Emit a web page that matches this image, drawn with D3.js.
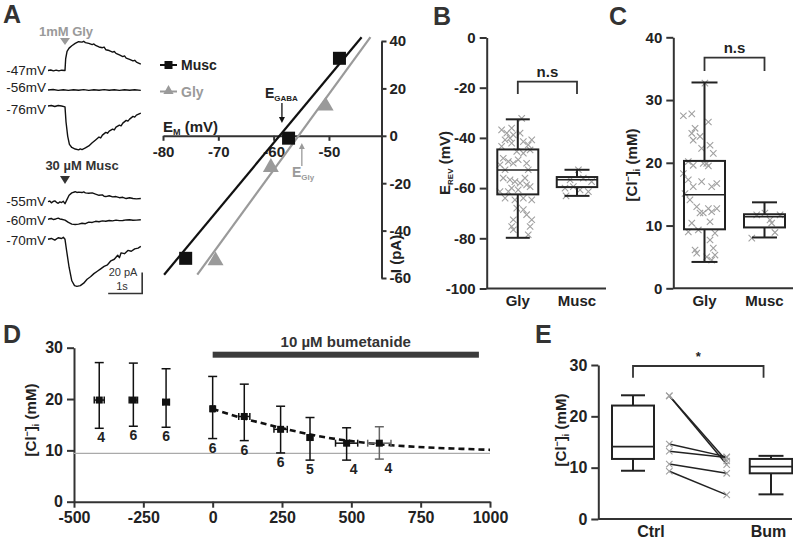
<!DOCTYPE html>
<html><head><meta charset="utf-8">
<script src="https://cdn.jsdelivr.net/npm/d3@7"></script>
<style>
body{margin:0;background:#fff}
text{font-family:"Liberation Sans",Arial,Helvetica,sans-serif}
</style></head>
<body><svg id="c" width="793" height="541"></svg>
<script>
// ---------------- DATA ----------------
// Panel A traces (time s, current pA relative to baseline)
const traceGly47 = [[0,0],[0.08,0.5],[0.16,-0.4],[0.24,0.4],[0.32,-0.3],[0.4,0.3],[0.5,0],[0.52,11.4],[0.56,18.2],[0.62,21.3],[0.7,23.6],[0.8,25.8],[0.9,27.4],[1.0,27],[1.05,27.8],[1.1,26.6],[1.2,25.8],[1.3,24.7],[1.35,25.3],[1.4,23.9],[1.5,22.4],[1.6,21.7],[1.65,22.3],[1.7,19.8],[1.8,19],[1.9,17.5],[1.95,18.1],[2.0,16.3],[2.1,14.8],[2.2,13.3],[2.25,13.9],[2.3,11.8],[2.4,10.6],[2.5,9.1],[2.55,9.7],[2.6,8],[2.73,6.1]];
const traceGly56 = [[0,0],[0.15,0.5],[0.3,-0.4],[0.45,0.3],[0.6,-0.4],[0.75,0.3],[0.9,-0.3],[1.05,0.4],[1.2,-0.4],[1.35,0.3],[1.5,-0.3],[1.65,0.4],[1.8,-0.3],[1.95,0.3],[2.1,-0.4],[2.25,0.2],[2.4,-0.3],[2.55,0.2],[2.73,-0.4]];
const traceGly76 = [[0,0],[0.1,0.5],[0.2,-0.5],[0.3,0.5],[0.4,0],[0.5,-0.8],[0.53,-15.2],[0.58,-28.9],[0.63,-36.5],[0.7,-39.5],[0.8,-41],[0.9,-41.8],[0.95,-40.9],[1.0,-41.5],[1.1,-39.9],[1.2,-38],[1.3,-35],[1.4,-32.3],[1.5,-29.6],[1.55,-30.4],[1.6,-27.7],[1.7,-25.1],[1.75,-25.9],[1.8,-23.9],[1.9,-22],[1.95,-22.8],[2.0,-20.1],[2.1,-18.2],[2.15,-18.9],[2.2,-16.3],[2.3,-13.7],[2.35,-14.4],[2.4,-12.5],[2.5,-9.9],[2.55,-10.6],[2.6,-8.7],[2.73,-6.8]];
const traceMusc55 = [[0,0],[0.05,0.6],[0.1,-1.1],[0.15,0.2],[0.2,0.8],[0.25,-0.6],[0.3,-1.5],[0.35,-0.2],[0.4,-0.8],[0.45,0.4],[0.5,-1.9],[0.55,1.5],[0.62,6.1],[0.7,8.4],[0.8,9.5],[0.85,8.8],[0.9,9.1],[1.0,8.7],[1.05,9.3],[1.1,8.4],[1.2,8],[1.3,8.4],[1.4,7.2],[1.5,6.1],[1.6,6.5],[1.65,5.2],[1.7,4.9],[1.8,5.7],[1.9,4.6],[2.0,4.9],[2.1,3.8],[2.2,4.2],[2.3,3],[2.4,3.8],[2.5,3],[2.6,2.7],[2.73,3]];
const traceMusc60 = [[0,0],[0.05,0.5],[0.1,0.8],[0.15,-0.2],[0.2,0],[0.25,0.7],[0.3,1.1],[0.35,0.3],[0.4,0],[0.5,-0.8],[0.6,-3],[0.7,-4.6],[0.8,-4.9],[0.9,-4.6],[1.0,-3.8],[1.1,-4.2],[1.2,-2.7],[1.3,-3],[1.4,-1.9],[1.5,-2.3],[1.6,-1.5],[1.7,-1.9],[1.8,-1.1],[1.9,-1.5],[2.0,-0.8],[2.1,-1.3],[2.2,-1.1],[2.3,-0.6],[2.4,-0.4],[2.5,-0.9],[2.6,-0.8],[2.73,-0.4]];
const traceMusc70 = [[0,0],[0.1,0.8],[0.2,-0.8],[0.3,1.5],[0.4,0.8],[0.45,1.9],[0.5,0],[0.55,-11.4],[0.62,-26.6],[0.7,-39.5],[0.78,-44.1],[0.85,-44.8],[0.95,-44.1],[1.05,-41.8],[1.15,-38],[1.25,-35.7],[1.35,-32.7],[1.45,-30.4],[1.55,-28.1],[1.65,-25.8],[1.75,-24.3],[1.85,-20.5],[1.95,-19],[2.05,-15.2],[2.1,-17.5],[2.15,-12.9],[2.25,-13.7],[2.35,-10.6],[2.45,-11.4],[2.55,-9.1],[2.65,-8.4],[2.73,-6.8]];
const traceLabels = ["-47mV","-56mV","-76mV","-55mV","-60mV","-70mV"];

// Panel A IV
const ivMuscV = [-75.9, -57.3, -48.1];
const ivMuscI = [-51.7, -1, 32.7];
const ivGlyV = [-70.5, -60.5, -50.6];
const ivGlyI = [-52.7, -13.3, 12.6];
const fitMuscV = [-79.8, -44.1], fitMuscI = [-58.6, 41.6];
const fitGlyV = [-73.8, -42.5], fitGlyI = [-58.6, 41.6];
const eGaba = -58.5, eGly = -54.9;
const ivXTicks = [-80, -70, -60, -50];
const ivYTicks = [40, 20, 0, -20, -40, -60];

// Panel B
const bCats = ["Gly", "Musc"];
const bStats = [[-79.8, -62.5, -52.8, -44.6, -32.6], [-63.1, -59.6, -56.7, -55.6, -52.7]];
const bGlyVals = [-36.8,-38.1,-40.1,-38.8,-40.8,-38.1,-41.5,-42.8,-42.1,-43.4,-45.4,-46.1,-44.8,-48.1,-49.4,-50.1,-48.7,-50.1,-50.7,-52.7,-52.7,-56.0,-56.7,-57.4,-58.0,-56.0,-58.7,-60.0,-60.7,-59.4,-64.0,-64.7,-64.0,-64.7,-61.4,-68.6,-70.6,-72.6,-72.6,-75.3,-75.3,-76.6,-78.6,-68.0,-61.4,-32.2,-36.1,-40.8];
const bGlyJit = [-0.79,-0.54,-0.38,-0.22,-0.62,0.11,0.27,0.51,-0.30,-0.79,-0.05,0.27,0.60,-0.71,-0.46,-0.22,0.02,0.43,-0.87,-0.62,0.51,-0.71,-0.38,-0.14,0.11,0.35,0.43,-0.30,0.02,0.60,-0.62,-0.14,0.27,0.68,-0.46,0.27,0.43,0.68,-0.22,-0.30,0.60,-0.22,0.51,-0.05,-0.87,0.19,-0.30,0.68];
const bMuscVals = [-52.7,-56.7,-56.0,-57.4,-60.0,-59.4,-61.4,-63.1,-60.7];
const bMuscJit = [0.07,-0.34,0.31,0.72,-0.59,-0.18,0.56,-0.54,0.15];
const bYTicks = [0, -20, -40, -60, -80, -100];

// Panel C
const cCats = ["Gly", "Musc"];
const cStats = [[4.2, 9.4, 14.9, 20.3, 32.8], [8.1, 9.7, 11.4, 11.8, 13.7]];
const cGlyVals = [32.7,27.5,27.8,25.5,24.7,23.6,26.5,22.3,22.8,21.5,20.2,19.6,19.9,19.5,18.3,17.3,17.0,16.2,16.2,14.1,13.0,12.0,12.7,12.2,12.0,10.6,10.4,9.0,9.3,8.8,7.7,6.1,5.6,6.4,5.3,4.5,5.0,15.1,12.7,24.2,19.9,16.7];
const cGlyJit = [0.02,-1.03,-0.62,-0.46,-0.62,-0.55,0.19,-0.14,0.27,0.43,-0.79,-0.55,0.11,0.19,-1.03,-0.79,-0.14,0.35,-0.55,-0.71,-0.38,-0.06,0.19,0.35,-0.22,0.27,-0.62,-0.79,-0.30,0.51,0.27,-0.46,-0.38,0.43,0.51,0.35,0.11,-0.95,0.60,-0.22,-0.06,0.60];
const cMuscVals = [11.7,10.9,8.9,8.0,12.0,11.7,10.4];
const cMuscJit = [-0.38,0.27,0.51,-0.62,0.02,0.76,0.35];
const cYTicks = [0, 10, 20, 30, 40];

// Panel D
const dTime = [-409, -286, -168, 0, 114, 245, 351, 483, 601];
const dCl = [19.8, 19.8, 19.4, 18.1, 16.6, 14.1, 12.5, 11.4, 11.4];
const dLow = [14.3, 14.7, 14.5, 12.3, 11.9, 9.5, 8.1, 8.1, 8.3];
const dHigh = [27.1, 27.0, 25.9, 24.4, 22.9, 18.6, 16.4, 14.4, 14.6];
const dTimeErr = [18, 15, 12, 6, 20, 24, 10, 40, 42];
const dN = [4, 6, 6, 6, 6, 6, 5, 4, 4];
const dFitT = [0, 100, 200, 300, 400, 500, 600, 700, 800, 900, 1000];
const dFitCl = [18.1, 16.4, 15.0, 13.7, 12.6, 11.8, 11.2, 10.8, 10.5, 10.3, 10.1];
const dBaseline = 9.4;
const bumStart = 0, bumEnd = 960;
const dXTicks = [-500, -250, 0, 250, 500, 750, 1000];
const dYTicks = [0, 10, 20, 30];

// Panel E
const eCtrl = [24.0, 24.0, 14.6, 13.2, 10.7, 9.3];
const eBum = [10.6, 11.3, 12.1, 12.0, 8.9, 4.7];
const eCtrlStats = [9.4, 11.7, 14.1, 22.1, 24.1];
const eBumStats = [4.8, 8.9, 10.2, 11.7, 12.3];
const eYTicks = [0, 10, 20, 30];

// ---------------- DRAW ----------------
const svg = d3.select("#c");
const INK = "#222", AX = "#333", GRAY = "#9a9a9a";
const plain = d => String(d);

function styleAxis(g, fs) {
  g.selectAll("path,line").attr("stroke", AX).attr("stroke-width", 2);
  g.selectAll("text").attr("font-size", fs || 15).attr("font-weight", "bold").attr("fill", INK);
}
function letter(t, x, y) {
  svg.append("text").attr("x", x).attr("y", y).text(t)
    .attr("font-size", 25).attr("font-weight", "bold").attr("fill", "#333");
}
function crossPath(s) { return `M${-s},${-s}L${s},${s}M${-s},${s}L${s},${-s}`; }

// ===== Panel A traces =====
letter("A", 3, 23);
const tX = d3.scaleLinear().domain([0, 1]).range([48, 82]);
const pA = 1.05; // px per pA (scale bar 20 pA = 21 px)
const traceSet = [
  {d: traceGly47, base: 70.5}, {d: traceGly56, base: 90}, {d: traceGly76, base: 106},
  {d: traceMusc55, base: 201.7}, {d: traceMusc60, base: 219.3}, {d: traceMusc70, base: 239.3}
];
const labelY = [75, 92, 114, 206, 225, 245];
traceSet.forEach((tr, k) => {
  const line = d3.line().x(p => tX(p[0])).y(p => tr.base - p[1] * pA);
  svg.append("path").attr("d", line(tr.d)).attr("fill", "none")
    .attr("stroke", "#111").attr("stroke-width", 1.4).attr("stroke-linejoin", "round");
  svg.append("text").attr("x", 46).attr("y", labelY[k]).attr("text-anchor", "end")
    .attr("font-size", 13.5).attr("fill", INK).text(traceLabels[k]);
});
svg.append("text").attr("x", 66).attr("y", 36).attr("text-anchor", "middle")
  .attr("font-size", 13).attr("font-weight", "bold").attr("fill", "#9a9a9a").text("1mM Gly");
svg.append("path").attr("d", "M60,38L70,38L65,45Z").attr("fill", "#9a9a9a");
svg.append("text").attr("x", 82).attr("y", 170).attr("text-anchor", "middle")
  .attr("font-size", 13).attr("font-weight", "bold").attr("fill", "#333").text("30 µM Musc");
svg.append("path").attr("d", "M60,176L70,176L65,184Z").attr("fill", "#333");
// scale bar
svg.append("path").attr("d", `M${tX(1.77)},293.5H${tX(2.77)}V${293.5 - 20 * pA}`)
  .attr("fill", "none").attr("stroke", "#333").attr("stroke-width", 1.6);
svg.append("text").attr("x", 123).attr("y", 276).attr("text-anchor", "middle")
  .attr("font-size", 11).attr("fill", "#333").text("20 pA");
svg.append("text").attr("x", 122).attr("y", 290).attr("text-anchor", "middle")
  .attr("font-size", 11).attr("fill", "#333").text("1s");

// ===== Panel A IV =====
const xIV = d3.scaleLinear().domain([-80, -40.5]).range([163, 381.5]);
const yIV = d3.scaleLinear().domain([-60, 40]).range([278, 41]);
const gIVx = svg.append("g").attr("transform", `translate(0,${yIV(0)})`)
  .call(d3.axisBottom(xIV).tickValues(ivXTicks).tickFormat(plain).tickSize(5).tickPadding(6).tickSizeOuter(0));
styleAxis(gIVx);
const gIVy = svg.append("g").attr("transform", `translate(${xIV(-40.5)},0)`)
  .call(d3.axisRight(yIV).tickValues(ivYTicks).tickFormat(plain).tickSize(5).tickPadding(3).tickSizeOuter(0));
styleAxis(gIVy);
const lineIV = d3.line().x(p => xIV(p[0])).y(p => yIV(p[1]));
svg.append("path").attr("d", lineIV(d3.zip(fitGlyV, fitGlyI))).attr("stroke", GRAY).attr("stroke-width", 2.2).attr("fill", "none");
svg.append("path").attr("d", lineIV(d3.zip(fitMuscV, fitMuscI))).attr("stroke", "#111").attr("stroke-width", 2.2).attr("fill", "none");
ivMuscV.forEach((v, i) => {
  svg.append("rect").attr("x", xIV(v) - 6.5).attr("y", yIV(ivMuscI[i]) - 6.5)
    .attr("width", 13).attr("height", 13).attr("fill", "#111");
});
ivGlyV.forEach((v, i) => {
  svg.append("path").attr("transform", `translate(${xIV(v)},${yIV(ivGlyI[i])})`)
    .attr("d", d3.symbol().type(d3.symbolTriangle).size(110)()).attr("fill", GRAY);
});
// legend
svg.append("line").attr("x1", 160).attr("x2", 177).attr("y1", 65).attr("y2", 65).attr("stroke", "#111").attr("stroke-width", 2);
svg.append("rect").attr("x", 164.5).attr("y", 61).attr("width", 8).attr("height", 8).attr("fill", "#111");
svg.append("text").attr("x", 181).attr("y", 70).attr("font-size", 14).attr("font-weight", "bold").attr("fill", INK).text("Musc");
svg.append("line").attr("x1", 160).attr("x2", 177).attr("y1", 91.5).attr("y2", 91.5).attr("stroke", GRAY).attr("stroke-width", 2);
svg.append("path").attr("transform", "translate(168.5,91)").attr("d", d3.symbol().type(d3.symbolTriangle).size(45)()).attr("fill", GRAY);
svg.append("text").attr("x", 181).attr("y", 96.5).attr("font-size", 14).attr("font-weight", "bold").attr("fill", GRAY).text("Gly");
// E labels + arrows
const tEG = svg.append("text").attr("x", 265).attr("y", 98).attr("font-size", 14).attr("font-weight", "bold").attr("fill", INK);
tEG.append("tspan").text("E");
tEG.append("tspan").attr("font-size", 8).attr("dy", 3).text("GABA");
svg.append("line").attr("x1", xIV(eGaba)).attr("x2", xIV(eGaba)).attr("y1", 103).attr("y2", 118).attr("stroke", "#111").attr("stroke-width", 1.3);
svg.append("path").attr("d", `M${xIV(eGaba) - 3},117L${xIV(eGaba) + 3},117L${xIV(eGaba)},123Z`).attr("fill", "#111");
const tEY = svg.append("text").attr("x", 292).attr("y", 177).attr("font-size", 14).attr("font-weight", "bold").attr("fill", GRAY);
tEY.append("tspan").text("E");
tEY.append("tspan").attr("font-size", 8).attr("dy", 3).text("Gly");
svg.append("line").attr("x1", xIV(eGly)).attr("x2", xIV(eGly)).attr("y1", 166).attr("y2", 148).attr("stroke", GRAY).attr("stroke-width", 1.3);
svg.append("path").attr("d", `M${xIV(eGly) - 3},149L${xIV(eGly) + 3},149L${xIV(eGly)},143Z`).attr("fill", GRAY);
const tEM = svg.append("text").attr("x", 163).attr("y", 132).attr("font-size", 15).attr("font-weight", "bold").attr("fill", INK);
tEM.append("tspan").text("E");
tEM.append("tspan").attr("font-size", 9).attr("dy", 3).text("M");
tEM.append("tspan").attr("dy", -3).text(" (mV)");
svg.append("text").attr("transform", "translate(401,254) rotate(-90)").attr("text-anchor", "middle")
  .attr("font-size", 15).attr("font-weight", "bold").attr("fill", INK).text("I (pA)");

// ===== Box plot helpers =====
function boxPlot(x, y, stats, w, capW) {
  const [lo, q1, md, q3, hi] = stats;
  const g = svg.append("g").attr("stroke", INK).attr("stroke-width", 2).attr("fill", "none");
  g.append("line").attr("x1", x).attr("x2", x).attr("y1", y(hi)).attr("y2", y(q3));
  g.append("line").attr("x1", x).attr("x2", x).attr("y1", y(q1)).attr("y2", y(lo));
  g.append("line").attr("x1", x - capW / 2).attr("x2", x + capW / 2).attr("y1", y(hi)).attr("y2", y(hi));
  g.append("line").attr("x1", x - capW / 2).attr("x2", x + capW / 2).attr("y1", y(lo)).attr("y2", y(lo));
  g.append("rect").attr("x", x - w / 2).attr("y", y(q3)).attr("width", w).attr("height", y(q1) - y(q3));
  g.append("line").attr("x1", x - w / 2).attr("x2", x + w / 2).attr("y1", y(md)).attr("y2", y(md)).attr("stroke-width", 1.6);
}
function crosses(x, y, vals, jit, half) {
  vals.forEach((v, i) => {
    svg.append("path").attr("transform", `translate(${x + jit[i] * half},${y(v)})`)
      .attr("d", crossPath(3.2)).attr("stroke", "#a0a0a0").attr("stroke-width", 1.1).attr("fill", "none");
  });
}
function bracket(x1, x2, yTop, yBot, label, fs) {
  svg.append("path").attr("d", `M${x1},${yBot}V${yTop}H${x2}V${yBot}`).attr("fill", "none").attr("stroke", "#333").attr("stroke-width", 1.8);
  svg.append("text").attr("x", (x1 + x2) / 2).attr("y", yTop - 5).attr("text-anchor", "middle")
    .attr("font-size", fs).attr("font-weight", "bold").attr("fill", INK).text(label);
}
function clLabel(x, y) {
  const t = svg.append("text").attr("transform", `translate(${x},${y}) rotate(-90)`).attr("text-anchor", "middle")
    .attr("font-size", 15).attr("font-weight", "bold").attr("fill", INK);
  t.append("tspan").text("[Cl");
  t.append("tspan").attr("font-size", 9).attr("dy", -6).text("−");
  t.append("tspan").attr("dy", 6).text("]");
  t.append("tspan").attr("font-size", 9).attr("dy", 3).text("i");
  t.append("tspan").attr("dy", -3).text(" (mM)");
}

// ===== Panel B =====
letter("B", 433, 25);
const yB = d3.scaleLinear().domain([-100, 0]).range([288.5, 37.5]);
const xB = d3.scalePoint().domain(bCats).range([517.8, 577]);
const gBy = svg.append("g").attr("transform", "translate(486.7,0)")
  .call(d3.axisLeft(yB).tickValues(bYTicks).tickFormat(plain).tickSize(7).tickPadding(4).tickSizeOuter(0));
styleAxis(gBy);
svg.append("line").attr("x1", 486.7).attr("x2", 606).attr("y1", 288.5).attr("y2", 288.5).attr("stroke", AX).attr("stroke-width", 2);
crosses(xB("Gly"), yB, bGlyVals, bGlyJit, 20.5);
crosses(xB("Musc"), yB, bMuscVals, bMuscJit, 20.3);
boxPlot(xB("Gly"), yB, bStats[0], 41, 24);
boxPlot(xB("Musc"), yB, bStats[1], 40.5, 25);
bCats.forEach(c => svg.append("text").attr("x", xB(c)).attr("y", 306).attr("text-anchor", "middle")
  .attr("font-size", 15).attr("font-weight", "bold").attr("fill", INK).text(c));
bracket(xB("Gly"), xB("Musc"), 81.7, 94, "n.s", 15);
{
  const t = svg.append("text").attr("transform", "translate(450,163) rotate(-90)").attr("text-anchor", "middle")
    .attr("font-size", 15).attr("font-weight", "bold").attr("fill", INK);
  t.append("tspan").text("E");
  t.append("tspan").attr("font-size", 8).attr("dy", 3).text("REV");
  t.append("tspan").attr("dy", -3).text(" (mV)");
}

// ===== Panel C =====
letter("C", 609, 25);
const yC = d3.scaleLinear().domain([0, 40]).range([288.3, 37.3]);
const xC = d3.scalePoint().domain(cCats).range([704.5, 764.5]);
const gCy = svg.append("g").attr("transform", "translate(673.3,0)")
  .call(d3.axisLeft(yC).tickValues(cYTicks).tickFormat(plain).tickSize(7).tickPadding(4).tickSizeOuter(0));
styleAxis(gCy);
svg.append("line").attr("x1", 673.3).attr("x2", 793).attr("y1", 288.3).attr("y2", 288.3).attr("stroke", AX).attr("stroke-width", 2);
crosses(xC("Gly"), yC, cGlyVals, cGlyJit, 20.5);
crosses(xC("Musc"), yC, cMuscVals, cMuscJit, 20.5);
boxPlot(xC("Gly"), yC, cStats[0], 41, 26);
boxPlot(xC("Musc"), yC, cStats[1], 41, 25);
cCats.forEach(c => svg.append("text").attr("x", xC(c)).attr("y", 306).attr("text-anchor", "middle")
  .attr("font-size", 15).attr("font-weight", "bold").attr("fill", INK).text(c));
bracket(xC("Gly"), xC("Musc"), 57.7, 71, "n.s", 15);
clLabel(637, 165);

// ===== Panel D =====
letter("D", 3, 343);
const xD = d3.scaleLinear().domain([-500, 1000]).range([74, 490]);
const yD = d3.scaleLinear().domain([0, 30]).range([501.7, 347.7]);
const gDx = svg.append("g").attr("transform", "translate(0,501.7)")
  .call(d3.axisBottom(xD).tickValues(dXTicks).tickFormat(plain).tickSize(6).tickPadding(4).tickSizeOuter(0));
styleAxis(gDx, 16);
const gDy = svg.append("g").attr("transform", "translate(74,0)")
  .call(d3.axisLeft(yD).tickValues(dYTicks).tickFormat(plain).tickSize(7).tickPadding(4).tickSizeOuter(0));
styleAxis(gDy, 16);
svg.append("line").attr("x1", xD(-500)).attr("x2", xD(1000)).attr("y1", yD(dBaseline)).attr("y2", yD(dBaseline))
  .attr("stroke", "#aaa").attr("stroke-width", 1.2);
svg.append("rect").attr("x", xD(bumStart)).attr("y", 351.7).attr("width", xD(bumEnd) - xD(bumStart)).attr("height", 6).attr("fill", "#3c3c3c");
svg.append("text").attr("x", xD((bumStart + bumEnd) / 2)).attr("y", 347).attr("text-anchor", "middle")
  .attr("font-size", 15).attr("font-weight", "bold").attr("fill", "#333").text("10 µM bumetanide");
svg.append("path").attr("d", d3.line().x(t => xD(t)).y((t, i) => yD(dFitCl[i])).curve(d3.curveMonotoneX)(dFitT))
  .attr("fill", "none").attr("stroke", "#111").attr("stroke-width", 2.6).attr("stroke-dasharray", "6,4");
const nDx = [2, 0, 0, 0, 0, 0, 0, 7, 9];
dTime.forEach((t, i) => {
  const col = i === 8 ? "#666" : "#111";
  const x = xD(t), g = svg.append("g").attr("stroke", col).attr("stroke-width", 1.5);
  g.append("line").attr("x1", x).attr("x2", x).attr("y1", yD(dHigh[i])).attr("y2", yD(dLow[i]));
  g.append("line").attr("x1", x - 4.5).attr("x2", x + 4.5).attr("y1", yD(dHigh[i])).attr("y2", yD(dHigh[i]));
  g.append("line").attr("x1", x - 4.5).attr("x2", x + 4.5).attr("y1", yD(dLow[i])).attr("y2", yD(dLow[i]));
  const xl = xD(t - dTimeErr[i]), xr = xD(t + dTimeErr[i]);
  g.append("line").attr("x1", xl).attr("x2", xr).attr("y1", yD(dCl[i])).attr("y2", yD(dCl[i]));
  g.append("line").attr("x1", xl).attr("x2", xl).attr("y1", yD(dCl[i]) - 3.5).attr("y2", yD(dCl[i]) + 3.5);
  g.append("line").attr("x1", xr).attr("x2", xr).attr("y1", yD(dCl[i]) - 3.5).attr("y2", yD(dCl[i]) + 3.5);
  svg.append("rect").attr("x", x - 3.5).attr("y", yD(dCl[i]) - 3.5).attr("width", 7).attr("height", 7).attr("fill", "#111");
  svg.append("text").attr("x", x + nDx[i]).attr("y", yD(dLow[i]) + 14).attr("text-anchor", "middle")
    .attr("font-size", 14).attr("font-weight", "bold").attr("fill", INK).text(dN[i]);
});
clLabel(36, 420);

// ===== Panel E =====
letter("E", 535, 343);
const yE = d3.scaleLinear().domain([0, 30]).range([519, 365]);
const xE = d3.scaleLinear().domain([0, 1]).range([633, 771]);
const gEy = svg.append("g").attr("transform", "translate(598.3,0)")
  .call(d3.axisLeft(yE).tickValues(eYTicks).tickFormat(plain).tickSize(7).tickPadding(4).tickSizeOuter(0));
styleAxis(gEy, 16);
svg.append("line").attr("x1", 598.3).attr("x2", 792).attr("y1", 519).attr("y2", 519).attr("stroke", AX).attr("stroke-width", 2);
boxPlot(xE(0), yE, eCtrlStats, 42, 24);
boxPlot(xE(1), yE, eBumStats, 42.5, 25);
eCtrl.forEach((v, i) => {
  svg.append("line").attr("x1", xE(0.263)).attr("x2", xE(0.679)).attr("y1", yE(v)).attr("y2", yE(eBum[i]))
    .attr("stroke", "#222").attr("stroke-width", 1.5);
});
crosses(xE(0.263), yE, eCtrl, eCtrl.map(() => 0), 0);
crosses(xE(0.679), yE, eBum, eBum.map(() => 0), 0);
[["Ctrl", 0.13], ["Bum", 0.982]].forEach(([c, p]) => svg.append("text").attr("x", xE(p)).attr("y", 537)
  .attr("text-anchor", "middle").attr("font-size", 16).attr("font-weight", "bold").attr("fill", INK).text(c));
bracket(xE(0), xE(0.946), 366, 377.7, "*", 13);
clLabel(566, 430);
</script></body></html>
